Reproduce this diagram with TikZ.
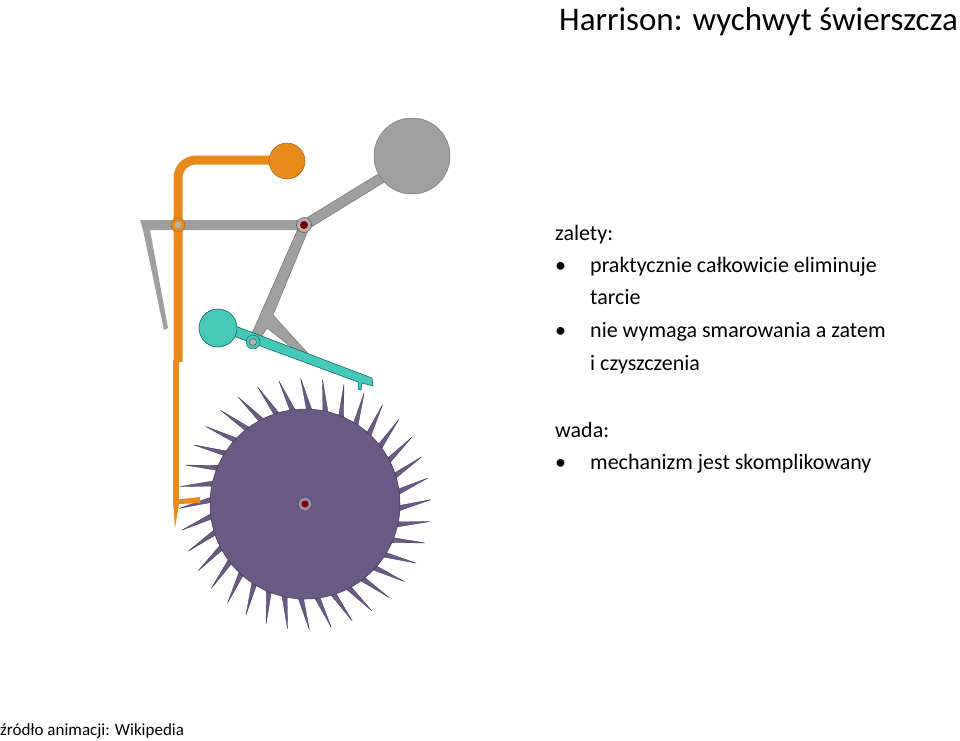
\documentclass[tikz,border=0pt]{standalone}
\usepackage{fontspec}
\setmainfont{Carlito}
\usetikzlibrary{calc}
\definecolor{orng}{HTML}{E8891C}
\definecolor{wheelc}{HTML}{6A5A85}
\definecolor{tealc}{HTML}{45C8B8}
\begin{document}
\begin{tikzpicture}[x=1pt,y=-1pt,
  gr/.style={fill=gray!75,draw=gray!90!black,line width=0.5pt},
  orb/.style={fill=orng,draw=orng!70!black,line width=0.5pt},
  tl/.style={fill=tealc,draw=teal!70!black,line width=0.5pt},
  wh/.style={fill=wheelc,draw=wheelc!60!black,line width=0.5pt},
  txt/.style={anchor=base west,inner sep=0pt,font=\fontsize{22}{24}\selectfont}]
\useasboundingbox (0,0) rectangle (960,740);
% wheel
\foreach \i in {0,...,35}{
  \pgfmathsetmacro{\a}{\i*10+3}
  \fill[wheelc,draw=wheelc!60!black,line width=0.3pt]
    ($(305,504)+(\a-1.8:92)$) -- ($(305,504)+(\a-5:126)$) -- ($(305,504)+(\a+1.8:92)$) -- cycle;
}
\node[wh,circle,minimum size=190pt,inner sep=0pt] (wheel) at (305,504) {};
\node[circle,draw=wheelc!50!black,fill=wheelc!70!white,minimum size=14pt,inner sep=0pt] (hub) at (305,504) {};
\node[circle,fill=red!50!black,minimum size=7pt,inner sep=0pt] at (hub) {};
% orange
\draw[orng,line width=9pt,rounded corners=18pt] (178,362) -- (178,160) -- (282,160);
\draw[orng,line width=6pt] (176,360) -- (176,505);
\fill[orng] (173,500) -- (200,497) -- (200,503) -- (179,504) -- (175,528) -- cycle;
\node[orb,circle,minimum size=36pt,inner sep=0pt] (oball) at (287,161) {};
% gray
\fill[gray!75] (140,220) -- (305,220) -- (305,230) -- (150,230) -- (168,328) -- (164,330) -- (143,230) -- cycle;
\fill[gr] (300,222) -- (380,173) -- (386,181) -- (308,229) -- cycle;
\node[gr,circle,minimum size=76pt,inner sep=0pt] (gball) at (412,156) {};
\fill[gr] (300,224) -- (309,228) -- (273,315) -- (313,359) -- (309,361) -- (267,328) -- (258,342) -- (250,338) -- cycle;
% teal
\fill[tl] (230,324) -- (372,378) -- (373,386) -- (362,383) -- (361,390) -- (358,389) -- (358,382) -- (228,334) -- cycle;
\node[tl,circle,minimum size=38pt,inner sep=0pt] (tball) at (218,328) {};
% pivots
\node[circle,draw=orng!70!black,fill=orng,minimum size=14pt,inner sep=0pt] (p1) at (178,225) {};
\node[circle,fill=gray!60,minimum size=7pt,inner sep=0pt] at (p1) {};
\node[circle,draw=gray!50!black,fill=gray!60,minimum size=15pt,inner sep=0pt] (p2) at (304,225) {};
\node[circle,fill=red!50!black,minimum size=8pt,inner sep=0pt] at (p2) {};
\node[circle,draw=teal!70!black,fill=tealc,minimum size=14pt,inner sep=0pt] (p3) at (253,342) {};
\node[circle,draw=gray!50!black,fill=gray!60,minimum size=7pt,inner sep=0pt] at (p3) {};
% text
\node[anchor=base east,inner sep=0pt,font=\fontsize{33}{36}\selectfont] (title) at (958,30) {Harrison: wychwyt świerszcza};
\node[txt] (z) at (555,240) {zalety:};
\node[txt] (b1) at (555,272) {•};
\node[txt] (l1) at (590,272) {praktycznie całkowicie eliminuje};
\node[txt] (l2) at (590,304) {tarcie};
\node[txt] (b2) at (555,337) {•};
\node[txt] (l3) at (590,337) {nie wymaga smarowania a zatem};
\node[txt] (l4) at (590,370) {i czyszczenia};
\node[txt] (w) at (555,437) {wada:};
\node[txt] (b3) at (555,469) {•};
\node[txt] (l5) at (590,469) {mechanizm jest skomplikowany};
\node[anchor=base west,inner sep=0pt,font=\fontsize{17}{19}\selectfont] (src) at (0,735) {źródło animacji: Wikipedia};
\end{tikzpicture}
\end{document}
